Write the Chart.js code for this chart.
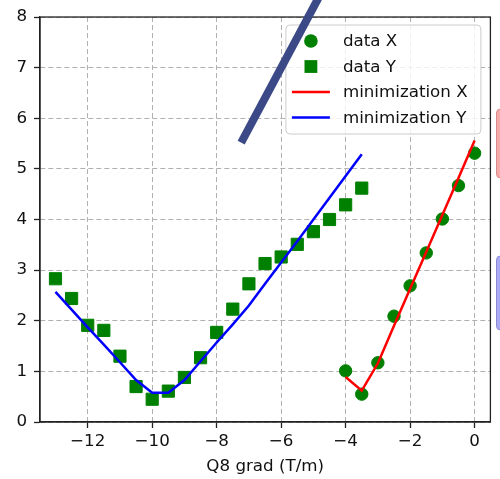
<!DOCTYPE html>
<html>
<head>
<meta charset="utf-8">
<script src="https://cdn.jsdelivr.net/npm/chart.js@4"></script>
<style>
  body { margin: 0; background: #fff; }
  #wrap { width: 500px; height: 479px; }
</style>
</head>
<body>
<div id="wrap"><canvas id="chart" width="500" height="479"></canvas></div>
<script>
// data
const gradX = [-4, -3.5, -3, -2.5, -2, -1.5, -1, -0.5, 0];
const dataX = [1.01, 0.55, 1.17, 2.09, 2.69, 3.34, 4.01, 4.67, 5.31];
const minX = [0.89, 0.62, 1.16, 1.9, 2.63, 3.36, 4.09, 4.82, 5.56];

const gradY = [-13, -12.5, -12, -11.5, -11, -10.5, -10, -9.5, -9, -8.5,
               -8, -7.5, -7, -6.5, -6, -5.5, -5, -4.5, -4, -3.5];
const dataY = [2.83, 2.44, 1.91, 1.81, 1.30, 0.70, 0.45, 0.61, 0.88, 1.27,
               1.77, 2.23, 2.73, 3.13, 3.26, 3.51, 3.76, 4.00, 4.29, 4.62];
const minY = [2.57, 2.22, 1.87, 1.53, 1.18, 0.83, 0.58, 0.58, 0.83, 1.20,
              1.57, 1.93, 2.30, 2.73, 3.15, 3.57, 4.00, 4.43, 4.86, 5.29];

// the thick slanted stroke (start and end, in data units)
const strokeX = [-7.24, -4.74];
const strokeY = [5.52, 8.5];

const xTicks = [-12, -10, -8, -6, -4, -2, 0];
const yTicks = [0, 1, 2, 3, 4, 5, 6, 7, 8];

const pts = (xs, ys) => xs.map((x, i) => ({ x: x, y: ys[i] }));
const fmt = v => (v < 0 ? '\u2212' + Math.abs(v) : '' + v);

Chart.defaults.font.family = '"DejaVu Sans", sans-serif';
Chart.defaults.font.size = 16.7;
Chart.defaults.color = '#111';

// frame round the plot
const framePlugin = {
    id: 'frame',
    beforeDatasetsDraw(chart) {
        const { ctx, chartArea: a } = chart;
        ctx.save();
        ctx.strokeStyle = '#222';
        ctx.lineWidth = 1.3;
        ctx.strokeRect(a.left, a.top, a.right - a.left, a.bottom - a.top);
        ctx.restore();
    }
};

// legend box drawn just before the slanted stroke
const legendPlugin = {
    id: 'boxLegend',
    beforeDatasetDraw(chart, args) {
        if (chart.data.datasets[args.index].id !== 'stroke') return;
        const { ctx, chartArea: a } = chart;
        const items = chart.data.datasets.filter(d => d.label);
        const w = 195, h = 109;
        const x0 = a.right - 9.5 - w, y0 = a.top + 8;
        ctx.save();
        ctx.beginPath();
        ctx.roundRect(x0, y0, w, h, 4);
        ctx.fillStyle = 'rgba(255,255,255,0.8)';
        ctx.fill();
        ctx.strokeStyle = '#cccccc';
        ctx.lineWidth = 1;
        ctx.stroke();
        ctx.font = '16.7px "DejaVu Sans"';
        ctx.textBaseline = 'middle';
        ctx.fillStyle = '#111';
        items.forEach((d, i) => {
            const cy = y0 + 16 + i * 25.5;
            const cx = x0 + 25;
            if (d.showLine) {
                ctx.strokeStyle = d.borderColor;
                ctx.lineWidth = 2.5;
                ctx.beginPath();
                ctx.moveTo(x0 + 6, cy);
                ctx.lineTo(x0 + 44, cy);
                ctx.stroke();
            } else {
                ctx.fillStyle = d.backgroundColor;
                ctx.beginPath();
                if (d.pointStyle === 'rect') {
                    ctx.rect(cx - 6.4, cy - 6.4, 12.8, 12.8);
                } else {
                    ctx.arc(cx, cy, 6.8, 0, Math.PI * 2);
                }
                ctx.fill();
            }
            ctx.fillStyle = '#111';
            ctx.fillText(d.label, x0 + 57, cy + 1);
        });
        ctx.restore();
    }
};

// two boxes peeking in at the right edge
const edgeBoxes = {
    id: 'edgeBoxes',
    afterDraw(chart) {
        const { ctx } = chart;
        const boxes = [
            { y: 109, h: 69, fill: '#f7aaaa', edge: '#d98a8a' },
            { y: 256, h: 74, fill: '#ababf5', edge: '#8a8ad6' }
        ];
        ctx.save();
        boxes.forEach(b => {
            ctx.beginPath();
            ctx.roundRect(496.5, b.y, 20, b.h, 4);
            ctx.fillStyle = b.fill;
            ctx.fill();
            ctx.strokeStyle = b.edge;
            ctx.lineWidth = 1;
            ctx.stroke();
        });
        ctx.restore();
    }
};

new Chart(document.getElementById('chart'), {
    type: 'scatter',
    data: {
        datasets: [
            {
                label: 'data X',
                data: pts(gradX, dataX),
                pointStyle: 'circle',
                pointRadius: 6.2,
                borderWidth: 1,
                backgroundColor: '#008000',
                borderColor: '#008000',
                order: 3
            },
            {
                label: 'data Y',
                data: pts(gradY, dataY),
                pointStyle: 'rect',
                pointRadius: 8.6,
                borderWidth: 1,
                backgroundColor: '#008000',
                borderColor: '#008000',
                order: 3
            },
            {
                label: 'minimization X',
                data: pts(gradX, minX),
                showLine: true,
                pointRadius: 0,
                borderColor: '#ff0000',
                backgroundColor: '#ff0000',
                borderWidth: 2.5,
                order: 2
            },
            {
                label: 'minimization Y',
                data: pts(gradY, minY),
                showLine: true,
                pointRadius: 0,
                borderColor: '#0000ff',
                backgroundColor: '#0000ff',
                borderWidth: 2.5,
                order: 2
            },
            {
                id: 'stroke',
                label: '',
                data: pts(strokeX, strokeY),
                showLine: true,
                pointRadius: 0,
                borderColor: '#3b4a86',
                borderWidth: 8,
                borderCapStyle: 'butt',
                clip: false,
                order: 0
            }
        ]
    },
    options: {
        responsive: false,
        animation: false,
        devicePixelRatio: 1,
        layout: { padding: { top: 16, right: 7.5, left: 0, bottom: 0 } },
        plugins: {
            legend: { display: false },
            tooltip: { enabled: false }
        },
        scales: {
            x: {
                type: 'linear',
                min: -13.48,
                max: 0.49,
                afterFit: s => { s.height = 57; },
                afterBuildTicks: s => { s.ticks = xTicks.map(v => ({ value: v })); },
                ticks: { padding: 4, callback: fmt, maxRotation: 0 },
                grid: { color: '#b0b0b0', lineWidth: 1, tickColor: '#222', tickWidth: 1.3, tickLength: 6 },
                border: { color: '#222', width: 1.3, dash: [5, 3] },
                title: { display: true, text: 'Q8 grad (T/m)', padding: { top: 0, bottom: 2.5 } }
            },
            y: {
                type: 'linear',
                min: 0,
                max: 8,
                afterFit: s => { s.width = 40; },
                afterBuildTicks: s => { s.ticks = yTicks.map(v => ({ value: v })); },
                ticks: { padding: 7, callback: fmt },
                grid: { color: '#b0b0b0', lineWidth: 1, tickColor: '#222', tickWidth: 1.3, tickLength: 6 },
                border: { color: '#222', width: 1.3, dash: [5, 3] }
            }
        }
    },
    plugins: [framePlugin, legendPlugin, edgeBoxes]
});
</script>
</body>
</html>
